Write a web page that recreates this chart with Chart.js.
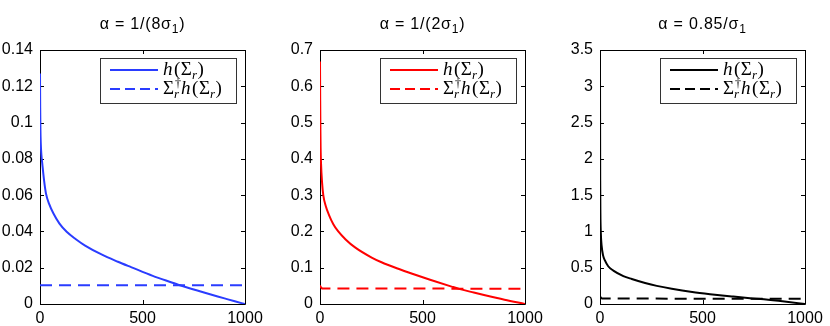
<!DOCTYPE html>
<html><head><meta charset="utf-8">
<script src="https://cdn.jsdelivr.net/npm/chart.js@4.4.1/dist/chart.umd.min.js"></script>
<style>
html,body{margin:0;padding:0;background:#fff;}
#wrap{position:relative;width:830px;height:326px;overflow:hidden;background:#fff;}
canvas{position:absolute;top:0;}
</style></head><body>
<div id="wrap">
<canvas id="c0" style="left:0px" width="280" height="326"></canvas>
<canvas id="c1" style="left:280px" width="280" height="326"></canvas>
<canvas id="c2" style="left:560px" width="270" height="326"></canvas>
</div>
<script>
// ---- data ----
const xTickVals = [0, 500, 1000];
const yTicksBlue = [0, 0.02, 0.04, 0.06, 0.08, 0.1, 0.12, 0.14];
const yTicksRed = [0, 0.1, 0.2, 0.3, 0.4, 0.5, 0.6, 0.7];
const yTicksBlack = [0, 0.5, 1, 1.5, 2, 2.5, 3, 3.5];

const titleMain = ["α = 1/(8σ", "α = 1/(2σ", "α = 0.85/σ"];
const titleSub = ["1", "1", "1"];
const titleTail = [")", ")", ""];

const rankBlue = [0,1,2,4,7,11,20,29,45,65,95,130,175,220,300,380,447,550,650,683,750,800,900,950,1000];
const hBlue = [0.127,0.108,0.097,0.088,0.082,0.0775,0.068,0.061,0.055,0.05,0.0443,0.0398,0.0357,0.0322,0.0273,0.0233,0.0202,0.0155,0.0116,0.0103,0.008,0.0063,0.0031,0.0015,0];
const rankBlueDash = [0, 1000];
const pBlue = [0.0103, 0.0103];

const rankRed = [0,1,2,3,5,10,16,28,44,65,89,125,171,252,300,382,450,537,642,683,750,800,900,1000];
const hRed = [0.668,0.56,0.48,0.43,0.388,0.335,0.3,0.27,0.245,0.22,0.2,0.178,0.156,0.128,0.115,0.097,0.0834,0.0669,0.048,0.041,0.0316,0.0248,0.0118,0];
const rankRedDash = [0, 3, 10, 1000];
const pRed = [0.051, 0.047, 0.043, 0.042];

const rankBlack = [0,1,2,4,8,15,24,40,65,114,155,220,277,350,450,537,650,732,800,900,1000];
const hBlack = [3.2,1.7,1.25,0.98,0.8,0.67,0.6,0.52,0.46,0.385,0.345,0.29,0.25,0.21,0.165,0.135,0.102,0.08,0.064,0.034,0];
const rankBlackDash = [0, 3, 10, 1000];
const pBlack = [0.11, 0.09, 0.075, 0.072];

// ---- build ----
function pts(xs, ys){ return xs.map((x,i)=>({x:x, y:ys[i]})); }

const panels = [
  {id:'c0', color:'#2a3cff', rs:rankBlue, hs:hBlue, rd:rankBlueDash, pd:pBlue, yt:yTicksBlue},
  {id:'c1', color:'#ff0000', rs:rankRed, hs:hRed, rd:rankRedDash, pd:pRed, yt:yTicksRed},
  {id:'c2', color:'#000000', rs:rankBlack, hs:hBlack, rd:rankBlackDash, pd:pBlack, yt:yTicksBlack}
];

function fmt(v){ return String(parseFloat(v.toFixed(3))); }

const matlabPlugin = {
  id: 'matlab',
  beforeDatasetsDraw(chart, args, opts){
    const ctx = chart.ctx, a = chart.chartArea;
    const xs = chart.scales.x, ys = chart.scales.y;
    ctx.save();
    ctx.strokeStyle = '#000';
    ctx.lineWidth = 1;
    ctx.beginPath();
    ctx.rect(a.left + 0.5, a.top + 0.5, a.right - a.left, a.bottom - a.top);
    ctx.stroke();
    const tl = 4;
    ctx.beginPath();
    opts.yt.forEach(v=>{
      const y = Math.round(ys.getPixelForValue(v)) + 0.5;
      ctx.moveTo(a.left, y); ctx.lineTo(a.left + tl, y);
      ctx.moveTo(a.right, y); ctx.lineTo(a.right - tl, y);
    });
    xTickVals.forEach(v=>{
      const x = Math.round(xs.getPixelForValue(v)) + 0.5;
      ctx.moveTo(x, a.bottom); ctx.lineTo(x, a.bottom - tl);
      ctx.moveTo(x, a.top); ctx.lineTo(x, a.top + tl);
    });
    ctx.stroke();

    // title
    const cx = (a.left + a.right) / 2;
    ctx.fillStyle = '#000';
    ctx.textBaseline = 'alphabetic';
    ctx.letterSpacing = '0.8px';
    const fMain = '16px "Liberation Sans", Arial, sans-serif';
    const fSub = '12px "Liberation Sans", Arial, sans-serif';
    ctx.font = fMain; const w1 = ctx.measureText(opts.tMain).width, w3 = ctx.measureText(opts.tTail).width;
    ctx.font = fSub; const w2 = ctx.measureText(opts.tSub).width;
    let tx = cx - (w1 + w2 + w3) / 2;
    const ty = 29;
    ctx.font = fMain; ctx.textAlign = 'left';
    ctx.fillText(opts.tMain, tx, ty); tx += w1;
    ctx.font = fSub; ctx.fillText(opts.tSub, tx, ty + 4); tx += w2;
    ctx.font = fMain; ctx.fillText(opts.tTail, tx, ty);
    ctx.letterSpacing = '0px';
    ctx.restore();
  },
  afterDatasetsDraw(chart, args, opts){
    const ctx = chart.ctx, a = chart.chartArea;
    ctx.save();
    // legend
    const lx0 = a.left + 60, ly0 = a.top + 8, lw = 136, lh = 45;
    ctx.fillStyle = '#fff';
    ctx.fillRect(lx0, ly0, lw, lh);
    ctx.strokeStyle = '#333';
    ctx.lineWidth = 1;
    ctx.strokeRect(lx0 + 0.5, ly0 + 0.5, lw, lh);
    ctx.strokeStyle = opts.color;
    ctx.lineWidth = 2;
    const r1 = ly0 + 12, r2 = ly0 + 31;
    ctx.beginPath(); ctx.moveTo(lx0 + 10, r1); ctx.lineTo(lx0 + 58, r1); ctx.stroke();
    ctx.setLineDash([10, 5]);
    ctx.beginPath(); ctx.moveTo(lx0 + 10, r2); ctx.lineTo(lx0 + 58, r2); ctx.stroke();
    ctx.setLineDash([]);
    ctx.fillStyle = '#000';
    ctx.textAlign = 'left';
    ctx.textBaseline = 'alphabetic';
    const it = 'italic 19px "Liberation Serif", "DejaVu Serif", serif';
    const up = '19px "Liberation Serif", "DejaVu Serif", serif';
    const sm = 'italic 13px "Liberation Serif", "DejaVu Serif", serif';
    const smu = '12px "Liberation Serif", "DejaVu Serif", serif';
    function seg(parts, x, y){
      parts.forEach(p=>{
        ctx.font = p[1];
        ctx.fillText(p[0], x, y + (p[2]||0));
        x += ctx.measureText(p[0]).width + (p[3]||0);
      });
      return x;
    }
    const hParts = [['h', it, 0, 1.5], ['(', up, 0, 0.5], ['Σ', up], ['r', sm, 4, 0.5], [')', up]];
    seg(hParts, lx0 + 63, r1 + 5);
    let x2 = seg([['Σ', up]], lx0 + 63, r2 + 5);
    ctx.font = smu; ctx.fillText('†', x2 + 1, r2 - 2);
    x2 = seg([['r', sm, 4]], x2, r2 + 5) + 2;
    seg(hParts, x2, r2 + 5);
    ctx.restore();
  }
};

panels.forEach((p, i)=>{
  const ctx = document.getElementById(p.id);
  new Chart(ctx, {
    type: 'line',
    data: {
      datasets: [
        {data: pts(p.rs, p.hs), borderColor: p.color, borderWidth: 2, pointRadius: 0, cubicInterpolationMode: 'monotone', fill: false},
        {data: pts(p.rd, p.pd), borderColor: p.color, borderWidth: 2, pointRadius: 0, borderDash: [12, 7], fill: false}
      ]
    },
    options: {
      responsive: false,
      animation: false,
      devicePixelRatio: 1,
      layout: {padding: {left: 0, right: (i === 2 ? 25 : 35), top: 50, bottom: 0}},
      plugins: {
        legend: {display: false},
        tooltip: {enabled: false},
        title: {display: false},
        matlab: {yt: p.yt, color: p.color, tMain: titleMain[i], tSub: titleSub[i], tTail: titleTail[i]}
      },
      scales: {
        x: {
          type: 'linear', min: 0, max: 1000,
          grid: {display: false, drawTicks: false},
          border: {display: false},
          afterBuildTicks: s => { s.ticks = xTickVals.map(v=>({value: v})); },
          afterFit: s => { s.height = 22; },
          ticks: {color: '#000', font: {family: '"Liberation Sans", Arial, sans-serif', size: 16}, padding: 5, maxRotation: 0, callback: v => fmt(v)}
        },
        y: {
          type: 'linear', min: 0, max: p.yt[p.yt.length - 1],
          grid: {display: false, drawTicks: false},
          border: {display: false},
          afterBuildTicks: s => { s.ticks = p.yt.map(v=>({value: v})); },
          afterFit: s => { s.width = 40; },
          ticks: {color: '#000', font: {family: '"Liberation Sans", Arial, sans-serif', size: 16}, padding: 7, callback: v => fmt(v)}
        }
      }
    },
    plugins: [matlabPlugin]
  });
});
</script>
</body></html>
